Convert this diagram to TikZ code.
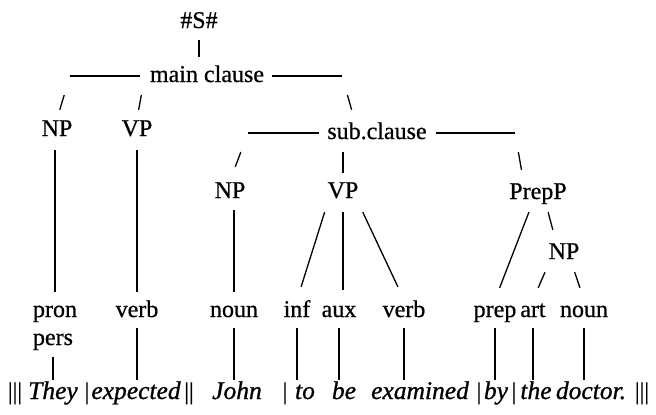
\documentclass[tikz,border=0pt]{standalone}
\usepackage{fontspec}
\setmainfont{Liberation Serif}[UprightFeatures={FakeBold=0.7}, ItalicFeatures={FakeBold=0.9}]
\usepackage{tikz}
\usetikzlibrary{positioning,calc}

\begin{document}
\begin{tikzpicture}
  [
    x=1pt, y=-1pt,
    Cat/.style={inner sep=0pt, anchor=base, text height=17pt, text depth=5pt,
      font=\fontsize{24}{28}\selectfont},
    Clause/.style={Cat, inner xsep=5pt},
    Word/.style={Cat, font=\fontsize{25.5}{28}\selectfont\itshape},
    Bar/.style={Cat},
    Dash/.style={draw, line width=1.2pt, shorten <=#1},
    Stub/.style 2 args={draw, line width=1.3pt, shorten <=#1, shorten >=#2}
  ]
  \useasboundingbox (0,0) rectangle (656,415);
  % Nodes
  \node[Cat] (S) at (199, 28) {\#S\#};
  \node[Clause] (mc) at (207, 82) {main clause};
  \node[Cat] (np1) at (57, 136) {NP};
  \node[Cat] (vp1) at (137, 136) {VP};
  \node[Clause] (sc) at (377, 139) {sub.clause};
  \node[Cat] (np2) at (230, 198) {NP};
  \node[Cat] (vp2) at (343, 198) {VP};
  \node[Cat] (pp) at (538, 199) {PrepP};
  \node[Cat] (np3) at (564, 259) {NP};
  % leaves
  \node[Cat] (pron) at (55, 317) {pron};
  \node[Cat] (pers) at (53, 345) {pers};
  \node[Cat] (verbA) at (137, 317) {verb};
  \node[Cat] (nounA) at (234, 317) {noun};
  \node[Cat] (inf) at (297, 317) {inf};
  \node[Cat] (aux) at (339, 317) {aux};
  \node[Cat] (verbB) at (404, 317) {verb};
  \node[Cat] (prep) at (495, 317) {prep};
  \node[Cat] (art) at (533, 317) {art};
  \node[Cat] (nounB) at (584, 317) {noun};
  % sentence
  \node[Bar] (barA) at (15, 399) {|||};
  \node[Word] (they) at (53, 399) {They};
  \node[Bar] (barB) at (87, 399) {|};
  \node[Word] (expected) at (136, 399) {expected};
  \node[Bar] (barC) at (189, 399) {||};
  \node[Word] (john) at (237, 399) {John};
  \node[Bar] (barD) at (285, 399) {|};
  \node[Word] (to) at (305, 399) {to};
  \node[Word] (be) at (344, 399) {be};
  \node[Word] (examined) at (420, 399) {examined};
  \node[Bar] (barE) at (479, 399) {|};
  \node[Word] (by) at (496, 399) {by};
  \node[Bar] (barF) at (514, 399) {|};
  \node[Word] (the) at (536, 399) {the};
  \node[Word] (doctor) at (591, 399) {doctor.};
  \node[Bar] (barG) at (642, 399) {|||};
  % dash ends
  \coordinate (mcL) at (70, 76);
  \coordinate (mcR) at (342, 76);
  \coordinate (scL) at (248, 133);
  \coordinate (scR) at (515, 133);
  \coordinate (scTop) at ($(sc.north west)!0.3!(sc.north east)$);
  \coordinate (ppTop) at ($(pp.north west)!0.25!(pp.north east)$);
  % Lines
  \path [Dash=4.5pt] (mc.west) -- (mcL);
  \path [Dash=2.5pt] (mc.east) -- (mcR);
  \path [Dash=3pt] (sc.west) -- (scL);
  \path [Dash=4pt] (sc.east) -- (scR);
  \path [Stub={7pt}{8pt}] (S.south) -- (S.south |- mc.north);
  \path [Stub={20pt}{9.5pt}] (mcL) -- (np1.north);
  \path [Stub={19.3pt}{9.1pt}] (mc.west) -- (vp1.north);
  \path [Stub={19.7pt}{12.5pt}] (mcR) -- (scTop);
  \path [Stub={20.3pt}{15pt}] (scL) -- (np2.north);
  \path [Stub={8pt}{8pt}] (sc.south -| vp2) -- (vp2.north);
  \path [Stub={19.4pt}{12.2pt}] (scR) -- (ppTop);
  \path [Stub={8pt}{9pt}] (pron.north) -- (pron.north |- np1.south);
  \path [Stub={8pt}{9pt}] (verbA.north) -- (verbA.north |- vp1.south);
  \path [Stub={8pt}{7pt}] (nounA.north) -- (nounA.north |- np2.south);
  \path [Stub={9.4pt}{13.6pt}] (vp2.south west) -- (inf.north);
  \path [Stub={9pt}{10pt}] (vp2.south) -- (vp2.south |- aux.north);
  \path [Stub={9.9pt}{14.3pt}] (vp2.south east) -- (verbB.north);
  \path [Stub={8.5pt}{12.8pt}] ([xshift=-6pt]pp.south) -- (prep.north);
  \path [Stub={8.3pt}{12.4pt}] ([xshift=8pt]pp.south) -- ([xshift=-8pt]np3.north);
  \path [Stub={8.7pt}{13pt}] (np3.south west) -- (art.north);
  \path [Stub={8.4pt}{12.7pt}] ([xshift=8pt]np3.south) -- (nounB.north);
  \path [Stub={7pt}{2pt}] (pers.south) -- (pers.south |- they.north);
  \path [Stub={6pt}{2pt}] (verbA.south) -- (verbA.south |- expected.north);
  \path [Stub={6pt}{2pt}] (nounA.south) -- (nounA.south |- john.north);
  \path [Stub={6pt}{2pt}] (inf.south) -- (inf.south |- to.north);
  \path [Stub={6pt}{2pt}] (aux.south) -- (aux.south |- be.north);
  \path [Stub={6pt}{2pt}] (verbB.south) -- (verbB.south |- examined.north);
  \path [Stub={6pt}{2pt}] (prep.south) -- (prep.south |- by.north);
  \path [Stub={6pt}{2pt}] (art.south) -- (art.south |- the.north);
  \path [Stub={6pt}{2pt}] (nounB.south) -- (nounB.south |- doctor.north);
\end{tikzpicture}
\end{document}
